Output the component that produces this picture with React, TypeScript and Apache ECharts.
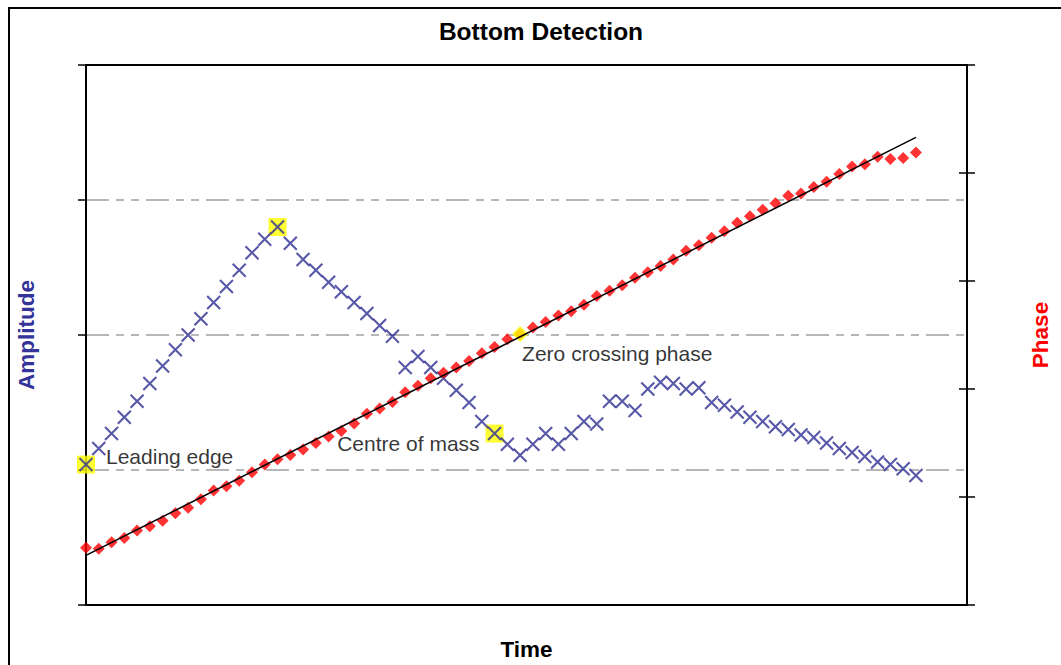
import React, { useEffect, useRef } from "react";
import * as echarts from "echarts";

const chartTitle = "Bottom Detection";
const xAxisName = "Time";
const leftAxisName = "Amplitude";
const rightAxisName = "Phase";

// Amplitude samples (left axis, 0..4)
const amplitude = [
  1.04, 1.16, 1.27, 1.39, 1.51, 1.64, 1.77, 1.89, 2.0, 2.12,
  2.24, 2.36, 2.48, 2.61, 2.71, 2.8, 2.68, 2.56, 2.48, 2.39,
  2.32, 2.24, 2.16, 2.07, 1.99, 1.76, 1.84, 1.76, 1.68, 1.59,
  1.5, 1.36, 1.27, 1.19, 1.11, 1.19, 1.27, 1.19, 1.27, 1.36,
  1.34, 1.51, 1.51, 1.44, 1.6, 1.65, 1.64, 1.6, 1.61, 1.5,
  1.48, 1.43, 1.39, 1.36, 1.32, 1.3, 1.26, 1.24, 1.2, 1.16,
  1.13, 1.1, 1.06, 1.04, 1.01, 0.96,
];

// Phase samples (right axis, 0..5)
const phase = [
  0.53, 0.52, 0.58, 0.62, 0.69, 0.73, 0.78, 0.85, 0.9, 0.98,
  1.06, 1.1, 1.15, 1.23, 1.3, 1.35, 1.39, 1.44, 1.5, 1.56,
  1.61, 1.68, 1.77, 1.82, 1.88, 1.97, 2.03, 2.1, 2.15, 2.2,
  2.26, 2.33, 2.39, 2.46, 2.51, 2.57, 2.62, 2.68, 2.72, 2.78,
  2.86, 2.91, 2.96, 3.03, 3.08, 3.14, 3.2, 3.28, 3.33, 3.4,
  3.46, 3.54, 3.6, 3.66, 3.72, 3.79, 3.81, 3.87, 3.92, 3.99,
  4.06, 4.08, 4.15, 4.13, 4.14, 4.19,
];

// Linear phase fit endpoints
const trendX = [0, 65];
const trendY = [0.46, 4.33];

// Highlighted samples
const leadingEdgeIdx = 0;
const peakIdx = 15;
const centreOfMassIdx = 32;
const zeroCrossingIdx = 34;

const leadingEdgeLabel = "Leading edge";
const centreOfMassLabel = "Centre of mass";
const zeroCrossingLabel = "Zero crossing phase";

const FONT = "'Liberation Sans', Arial, sans-serif";
const BLUE = "#2E2E94";
const RED = "#FF0000";
const YELLOW = "#FFFF00";

export default function App() {
  const ref = useRef<HTMLDivElement>(null);

  useEffect(() => {
    if (!ref.current) return;
    const chart = echarts.init(ref.current, undefined, { renderer: "svg" });

    const ampData = amplitude.map((v, i) => [i, v]);
    const phaseData = phase.map((v, i) => [i, v]);
    const labelText = {
      fontFamily: FONT,
      fontSize: 21,
      color: "#000",
    };
    const solidLine = { show: true, onZero: false, lineStyle: { color: "#000", width: 2 } };

    const option: any = {
      animation: false,
      backgroundColor: "#fff",
      title: {
        text: chartTitle,
        left: 536,
        top: 14,
        textAlign: "center",
        textStyle: { fontFamily: FONT, fontSize: 24.5, fontWeight: "bold", color: "#000" },
      },
      graphic: [
        {
          type: "rect",
          shape: { x: 9, y: 8, width: 1300, height: 900 },
          style: { fill: "none", stroke: "#000", lineWidth: 2 },
          silent: true,
          z: 0,
        },
      ],
      grid: {
        left: 86,
        right: 94,
        top: 65,
        bottom: 60,
        outerBoundsMode: "none",
        containLabel: false,
        show: false,
      },
      xAxis: [
        {
          type: "value",
          position: "bottom",
          min: 0,
          max: 69,
          name: xAxisName,
          nameLocation: "middle",
          nameGap: 33,
          nameTextStyle: { fontFamily: FONT, fontSize: 22.5, fontWeight: "bold", color: "#000" },
          axisLine: solidLine,
          axisTick: { show: false },
          axisLabel: { show: false },
          splitLine: { show: false },
          z: 10,
        },
        {
          type: "value",
          position: "top",
          min: 0,
          max: 69,
          axisLine: solidLine,
          axisTick: { show: false },
          axisLabel: { show: false },
          splitLine: { show: false },
          z: 10,
        },
      ],
      yAxis: [
        {
          type: "value",
          position: "left",
          min: 0,
          max: 4,
          interval: 1,
          name: leftAxisName,
          nameLocation: "middle",
          nameRotate: 90,
          nameGap: 48,
          nameTextStyle: { fontFamily: FONT, fontSize: 22.5, fontWeight: "bold", color: "#333399" },
          axisLine: solidLine,
          axisTick: { show: true, length: 8, lineStyle: { color: "#000", width: 1.5 } },
          axisLabel: { show: false },
          splitLine: {
            show: true,
            lineStyle: { color: "#A0A0A0", width: 1.5, type: [23, 7, 8, 7, 8, 7] },
          },
        },
        {
          // phase axis: crossing ticks (axis shifted 8px inward, ticks 16px long)
          type: "value",
          position: "right",
          offset: -8,
          min: 0,
          max: 5,
          interval: 1,
          name: rightAxisName,
          nameLocation: "middle",
          nameRotate: 90,
          nameGap: 70,
          nameTextStyle: { fontFamily: FONT, fontSize: 22.5, fontWeight: "bold", color: RED },
          axisLine: { show: false, onZero: false },
          axisTick: { show: true, inside: false, length: 16, lineStyle: { color: "#000", width: 1.5 } },
          axisLabel: { show: false },
          splitLine: { show: false },
        },
        {
          // right axis line
          type: "value",
          position: "right",
          offset: 0,
          min: 0,
          max: 5,
          interval: 1,
          axisLine: solidLine,
          axisTick: { show: false },
          axisLabel: { show: false },
          splitLine: { show: false },
        },
      ],
      series: [
        {
          name: "Highlights",
          type: "scatter",
          yAxisIndex: 0,
          symbol: "rect",
          symbolSize: 18,
          itemStyle: { color: YELLOW },
          z: 2,
          data: [
            {
              value: [leadingEdgeIdx, amplitude[leadingEdgeIdx]],
              label: {
                show: true,
                formatter: leadingEdgeLabel,
                position: "right",
                distance: 11,
                offset: [0, -8],
                ...labelText,
              },
            },
            { value: [peakIdx, amplitude[peakIdx]] },
            {
              value: [centreOfMassIdx, amplitude[centreOfMassIdx]],
              label: {
                show: true,
                formatter: centreOfMassLabel,
                position: "left",
                distance: 6,
                offset: [0, 10],
                ...labelText,
              },
            },
          ],
        },
        {
          name: "Amplitude",
          type: "scatter",
          yAxisIndex: 0,
          symbol: "path://M0,0L12,12M12,0L0,12",
          symbolSize: 13,
          itemStyle: { color: "rgba(0,0,0,0)", borderColor: BLUE, borderWidth: 2.1 },
          z: 3,
          data: ampData,
        },
        {
          name: "Phase",
          type: "scatter",
          yAxisIndex: 1,
          symbol: "diamond",
          symbolSize: 12,
          itemStyle: { color: RED },
          z: 3,
          data: phaseData,
        },
        {
          name: "Zero crossing",
          type: "scatter",
          yAxisIndex: 1,
          symbol: "diamond",
          symbolSize: 16,
          itemStyle: { color: YELLOW },
          z: 4,
          data: [
            {
              value: [zeroCrossingIdx, phase[zeroCrossingIdx]],
              label: {
                show: true,
                formatter: zeroCrossingLabel,
                position: "right",
                distance: 0,
                offset: [-6, 20],
                ...labelText,
              },
            },
          ],
        },
        {
          name: "Phase fit",
          type: "line",
          yAxisIndex: 1,
          showSymbol: false,
          symbol: "none",
          lineStyle: { color: "#000", width: 1.5 },
          z: 5,
          data: trendX.map((x, i) => [x, trendY[i]]),
        },
      ],
    };

    chart.setOption(option);
    return () => chart.dispose();
  }, []);

  return (
    <div
      ref={ref}
      style={{ position: "absolute", left: 0, top: 0, width: 1061, height: 665 }}
    />
  );
}
